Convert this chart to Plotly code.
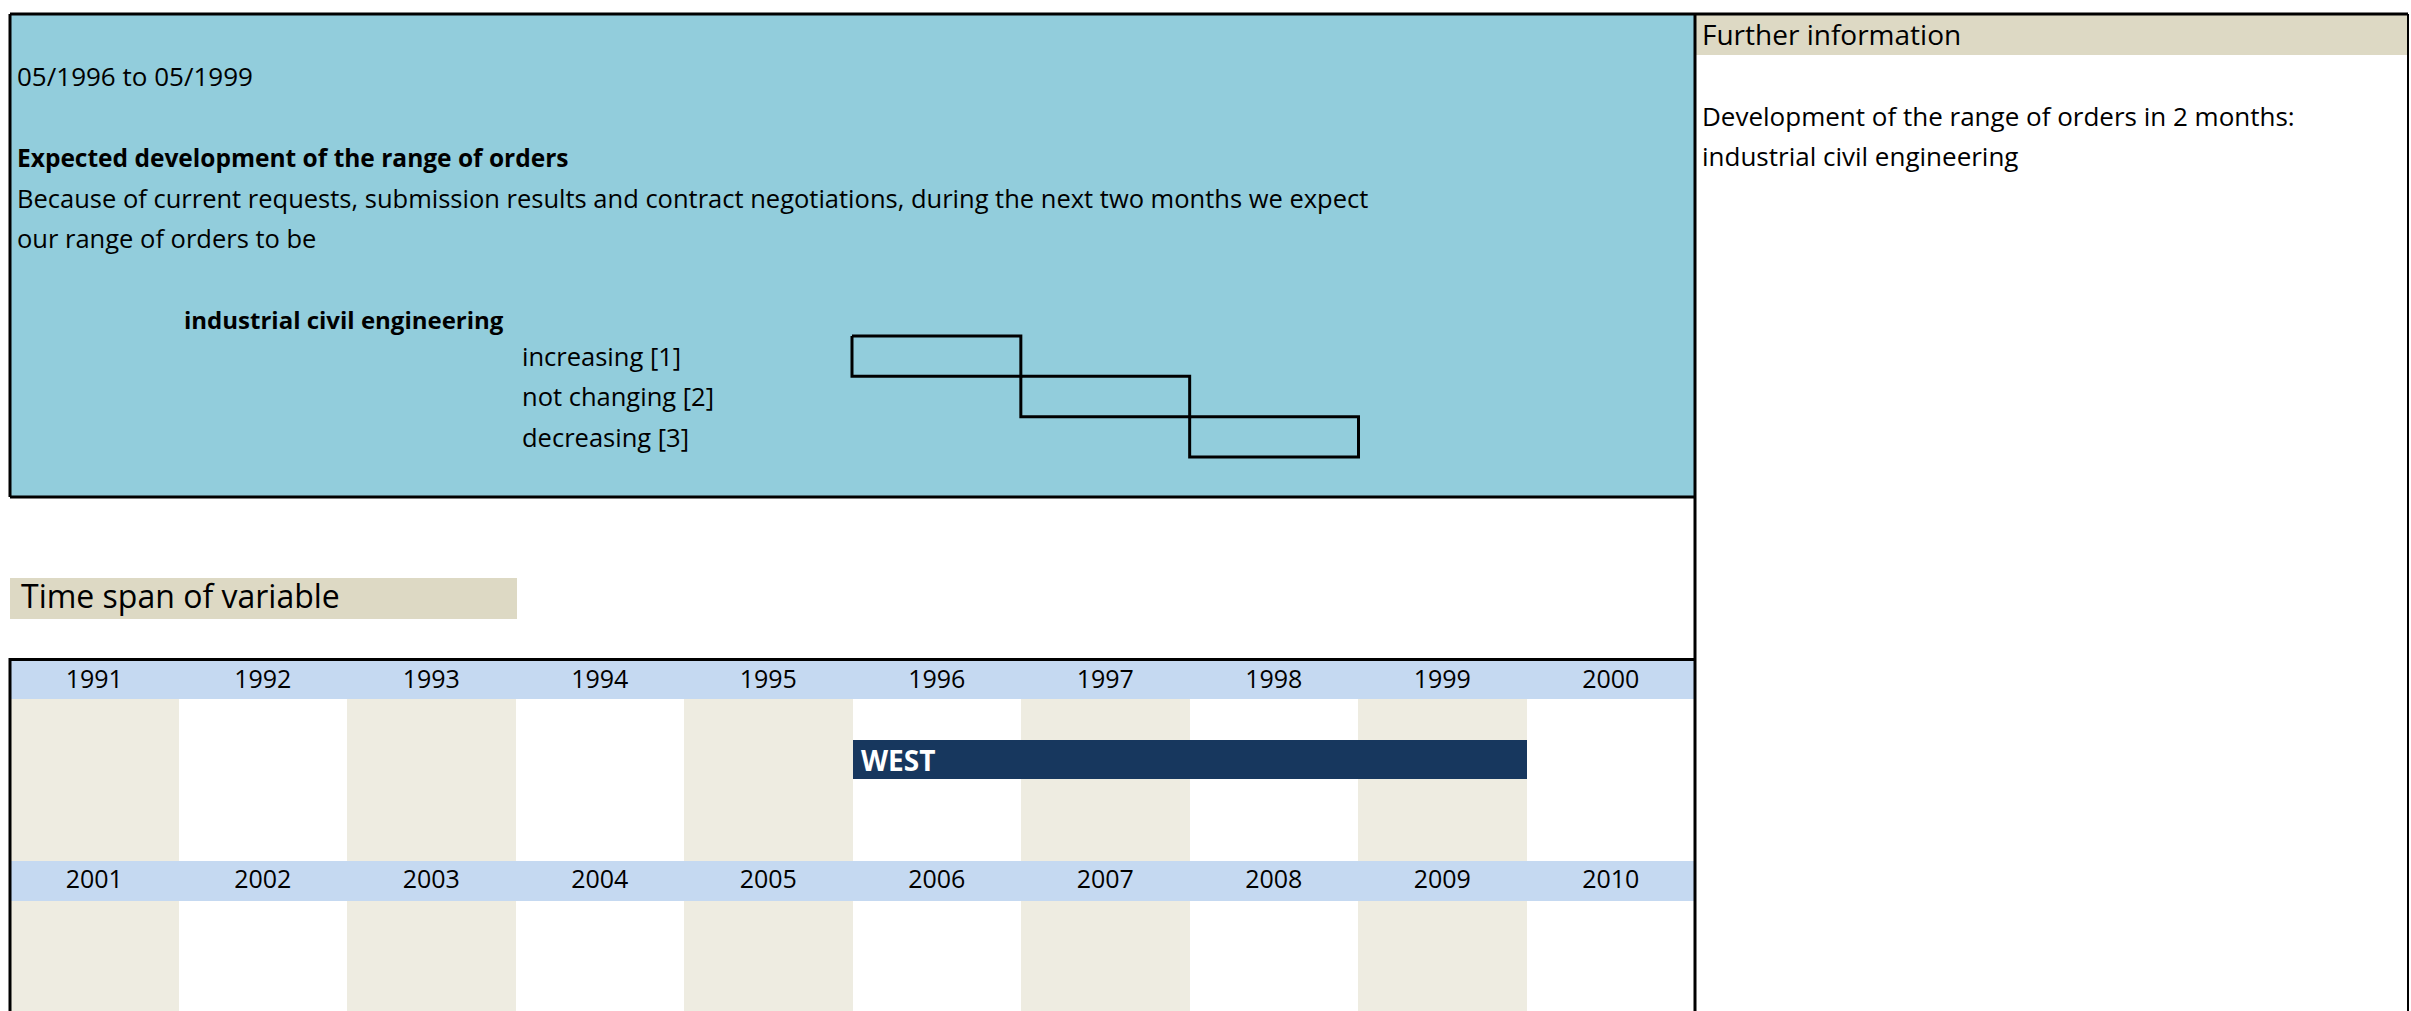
import plotly.graph_objects as go

W, H = 2411, 1011

# ---------------- data ----------------
period_text = "05/1996 to 05/1999"
question_title = "Expected development of the range of orders"
question_lines = [
    "Because of current requests, submission results and contract negotiations, during the next two months we expect",
    "our range of orders to be",
]
sector = "industrial civil engineering"
option_codes = [1, 2, 3]
option_labels = ["increasing [1]", "not changing [2]", "decreasing [3]"]
info_title = "Further information"
info_lines = ["Development of the range of orders in 2 months:", "industrial civil engineering"]
timespan_title = "Time span of variable"
years_row1 = [1991, 1992, 1993, 1994, 1995, 1996, 1997, 1998, 1999, 2000]
years_row2 = [2001, 2002, 2003, 2004, 2005, 2006, 2007, 2008, 2009, 2010]
span_label = "WEST"
span_start = 1996
span_end = 1999

# ---------------- style ----------------
FONT = "Open Sans, sans-serif"
BODY = 25.5
BLUE_BOX = "#92CDDC"
HEADER_BLUE = "#C5D9F1"
TAN = "#DDD9C4"
STRIPE = "#EEECE1"
NAVY = "#17375E"

LEFT, MID, RIGHT = 10, 1695, 2408
TOP = 14


def dx(px):
    return px / W


def dy(py):
    return 1 - py / H


fig = go.Figure()

# ---- calendar rows (year axes) ----
stripe_colors = [STRIPE if i % 2 == 0 else "white" for i in range(len(years_row1))]
for xa, yrs, head_top, head_h, body_top, body_h, label_y in [
    ("x2", years_row1, 661, 38, 699, 162, 682),
    ("x3", years_row2, 861, 40, 901, 162, 882),
]:
    fig.add_trace(go.Bar(x=yrs, y=[body_h] * len(yrs), base=[body_top] * len(yrs), width=1,
                         marker=dict(color=stripe_colors, line=dict(width=0)),
                         xaxis=xa, yaxis="y", hoverinfo="skip", showlegend=False))
    fig.add_trace(go.Bar(x=yrs, y=[head_h] * len(yrs), base=[head_top] * len(yrs), width=1,
                         marker=dict(color=HEADER_BLUE, line=dict(width=0)),
                         xaxis=xa, yaxis="y", hoverinfo="skip", showlegend=False))
    fig.add_trace(go.Scatter(x=yrs, y=[label_y] * len(yrs), mode="text", text=[str(v) for v in yrs],
                             textfont=dict(family=FONT, size=25, color="black"),
                             xaxis=xa, yaxis="y", hoverinfo="skip", showlegend=False))

# WEST span bar
fig.add_trace(go.Bar(orientation="h", x=[span_end - span_start + 1], base=[span_start - 0.5],
                     y=[759.5], width=[39], marker=dict(color=NAVY, line=dict(width=0)),
                     xaxis="x2", yaxis="y", hoverinfo="skip", showlegend=False))

# option boxes (staircase)
for code in option_codes:
    fig.add_trace(go.Scatter(
        x=[code - 0.5, code + 0.5, code + 0.5, code - 0.5, code - 0.5],
        y=[code - 0.5, code - 0.5, code + 0.5, code + 0.5, code - 0.5],
        mode="lines", line=dict(color="black", width=3),
        xaxis="x4", yaxis="y4", hoverinfo="skip", showlegend=False))

# ---- axes ----
box_x0, box_x1 = 852, 1358.5
unit_x = (box_x1 - box_x0) / 3
box_y0, box_y1 = 336, 457
unit_y = (box_y1 - box_y0) / 3
pad = 0.1

hidden = dict(visible=False, fixedrange=True, showgrid=False, zeroline=False)
fig.update_layout(
    xaxis=dict(range=[0, W], domain=[0, 1], anchor="y", **hidden),
    yaxis=dict(range=[H, 0], domain=[0, 1], anchor="x", **hidden),
    xaxis2=dict(range=[years_row1[0] - 0.5, years_row1[-1] + 0.5], domain=[dx(LEFT), dx(MID)], anchor="y", **hidden),
    xaxis3=dict(range=[years_row2[0] - 0.5, years_row2[-1] + 0.5], overlaying="x2", anchor="y", **hidden),
    xaxis4=dict(range=[0.5 - pad, 3.5 + pad], domain=[dx(box_x0 - pad * unit_x), dx(box_x1 + pad * unit_x)],
                anchor="y4", **hidden),
    yaxis4=dict(range=[3.5 + pad, 0.5 - pad], domain=[dy(box_y1 + pad * unit_y), dy(box_y0 - pad * unit_y)],
                anchor="x4", **hidden),
)

# ---- background blocks ----
shapes = [
    dict(type="rect", xref="x", yref="y", x0=LEFT, x1=MID, y0=TOP, y1=497, fillcolor=BLUE_BOX, line_width=0, layer="below"),
    dict(type="rect", xref="x", yref="y", x0=MID, x1=RIGHT, y0=TOP, y1=55, fillcolor=TAN, line_width=0, layer="below"),
    dict(type="rect", xref="x", yref="y", x0=LEFT, x1=517, y0=578, y1=619, fillcolor=TAN, line_width=0, layer="below"),
]
# frame lines
lines = [
    (LEFT, TOP, RIGHT, TOP, 3),
    (LEFT, TOP, LEFT, 497, 3),
    (LEFT, 497, MID, 497, 3),
    (MID, TOP, MID, H + 5, 3),
    (RIGHT, TOP, RIGHT, H + 5, 2),
    (LEFT, 659.5, MID, 659.5, 3),
    (LEFT, 658, LEFT, H + 5, 3),
]
for x0, y0, x1, y1, w in lines:
    shapes.append(dict(type="line", xref="x", yref="y", x0=x0, y0=y0, x1=x1, y1=y1,
                       line=dict(color="black", width=w), layer="above"))

# ---- texts ----
ann = []


def txt(x, y, s, size=BODY, bold=False, color="black", xref="x", yref="y", **kw):
    ann.append(dict(x=x, y=y, xref=xref, yref=yref, text=("<b>%s</b>" % s) if bold else s,
                    showarrow=False, xanchor="left", yanchor="middle",
                    font=dict(family=FONT, size=size, color=color), **kw))


txt(15, 76, period_text, size=26)
txt(15, 157, question_title, size=24.5, bold=True)
txt(15, 198, question_lines[0])
txt(15, 238, question_lines[1])
txt(182, 319, sector, size=24, bold=True)
for code, lab in zip(option_codes, option_labels):
    txt(dx(520), code, lab, xref="paper", yref="y4")
txt(19, 595, timespan_title, size=32)
txt(1700, 34, info_title, size=28)
txt(1700, 116, info_lines[0], size=26)
txt(1700, 156, info_lines[1], size=26)
txt(span_start - 0.5, 759.5, span_label, size=28, bold=True, color="white", xref="x2", xshift=6)

fig.update_layout(
    width=W, height=H, autosize=False,
    margin=dict(l=0, r=0, t=0, b=0, pad=0),
    paper_bgcolor="white", plot_bgcolor="rgba(0,0,0,0)",
    barmode="overlay", bargap=0, showlegend=False,
    shapes=shapes, annotations=ann,
)

fig.write_html("out.html", config={"displayModeBar": False, "responsive": False},
               post_script="document.body.style.margin='0';document.body.style.overflow='hidden';")
